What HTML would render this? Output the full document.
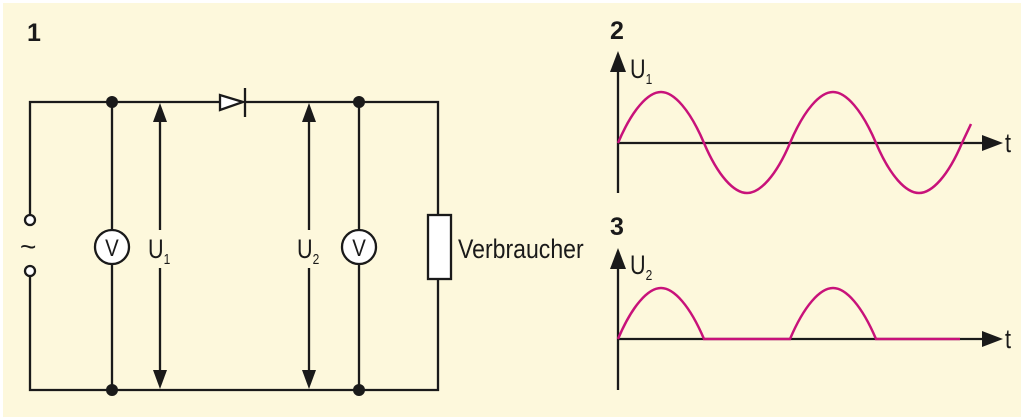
<!DOCTYPE html>
<html><head><meta charset="utf-8"><style>
html,body{margin:0;padding:0;background:#fff;}
svg{display:block}
text{font-family:"Liberation Sans",sans-serif;fill:#1a1a1a}
</style></head><body>
<svg width="1024" height="420" viewBox="0 0 1024 420">
<rect x="3" y="3" width="1018" height="414" fill="#fdf8dc"/>
<g stroke="#1a1a1a" stroke-width="2.3" fill="none">
<polyline points="30,214 30,102 220,102"/>
<polyline points="245,102 438,102 438,215"/>
<polyline points="438,279 438,390 30,390 30,276"/>
<line x1="112" y1="102" x2="112" y2="230"/>
<line x1="112" y1="264" x2="112" y2="390"/>
<line x1="359" y1="102" x2="359" y2="230"/>
<line x1="359" y1="264" x2="359" y2="390"/>
<line x1="160" y1="118" x2="160" y2="230"/>
<line x1="160" y1="268" x2="160" y2="374"/>
<line x1="309" y1="118" x2="309" y2="230"/>
<line x1="309" y1="268" x2="309" y2="374"/>
<circle cx="30" cy="220" r="5" fill="#fff"/>
<circle cx="30" cy="271" r="5" fill="#fff"/>
<circle cx="112" cy="247" r="17" fill="#fff"/>
<circle cx="359" cy="247" r="17" fill="#fff"/>
<rect x="428" y="215" width="23" height="64" fill="#fff"/>
<polygon points="220,95 220,110 243,102" fill="#fff"/>
<line x1="245" y1="88" x2="245" y2="117"/>
<line x1="618" y1="68" x2="618" y2="193"/>
<line x1="618" y1="143" x2="990" y2="143"/>
<line x1="618" y1="264" x2="618" y2="390"/>
<line x1="618" y1="339" x2="990" y2="339"/>
</g>
<g fill="#1a1a1a">
<circle cx="112" cy="102" r="6"/><circle cx="112" cy="390" r="6"/>
<circle cx="359" cy="102" r="6"/><circle cx="359" cy="390" r="6"/>
<polygon points="160,103 153,122 167,122"/><polygon points="160,389 153,370 167,370"/>
<polygon points="309,103 302,122 316,122"/><polygon points="309,389 302,370 316,370"/>
<polygon points="618,51 610,72 626,72"/><polygon points="1003,143 982,135 982,151"/>
<polygon points="618,248 610,269 626,269"/><polygon points="1003,339 982,331 982,347"/>
</g>
<path fill="none" stroke="#c8127a" stroke-width="2.5" d="M618,143 C632,110 648,92 661,92 C674,92 690,110 704,143 C718,176 734,193 747,193 C760,193 776,176 790,143 C804,110 820,92 833,92 C846,92 862,110 876,143 C890,176 906,193 919,193 C932,193 948,176 962,143 L971,124"/>
<path fill="none" stroke="#c8127a" stroke-width="2.5" d="M618,339 C632,306 648,288 661,288 C674,288 690,306 704,339 L790,339 C804,306 820,288 833,288 C846,288 862,306 876,339 L960,339"/>
<text x="27" y="41" font-size="25" font-weight="bold">1</text>
<text x="610" y="39" font-size="25" font-weight="bold">2</text>
<text x="610" y="235" font-size="25" font-weight="bold">3</text>
<text x="20" y="256" font-size="28">~</text>
<text x="112" y="256" font-size="24" text-anchor="middle" transform="translate(112 0) scale(0.85 1) translate(-112 0)">V</text>
<text x="359" y="256" font-size="24" text-anchor="middle" transform="translate(359 0) scale(0.85 1) translate(-359 0)">V</text>
<text x="148" y="258" font-size="27" transform="translate(148 0) scale(0.8 1) translate(-148 0)">U<tspan font-size="15" dy="6">1</tspan></text>
<text x="297" y="258" font-size="27" transform="translate(297 0) scale(0.8 1) translate(-297 0)">U<tspan font-size="15" dy="6">2</tspan></text>
<text x="458" y="258" font-size="27" transform="translate(458 0) scale(0.855 1) translate(-458 0)">Verbraucher</text>
<text x="630" y="78" font-size="27" transform="translate(630 0) scale(0.8 1) translate(-630 0)">U<tspan font-size="15" dy="6">1</tspan></text>
<text x="630" y="274" font-size="27" transform="translate(630 0) scale(0.8 1) translate(-630 0)">U<tspan font-size="15" dy="6">2</tspan></text>
<text x="1005" y="152" font-size="27" transform="translate(1005 0) scale(0.8 1) translate(-1005 0)">t</text>
<text x="1005" y="348" font-size="27" transform="translate(1005 0) scale(0.8 1) translate(-1005 0)">t</text>
</svg>
</body></html>
